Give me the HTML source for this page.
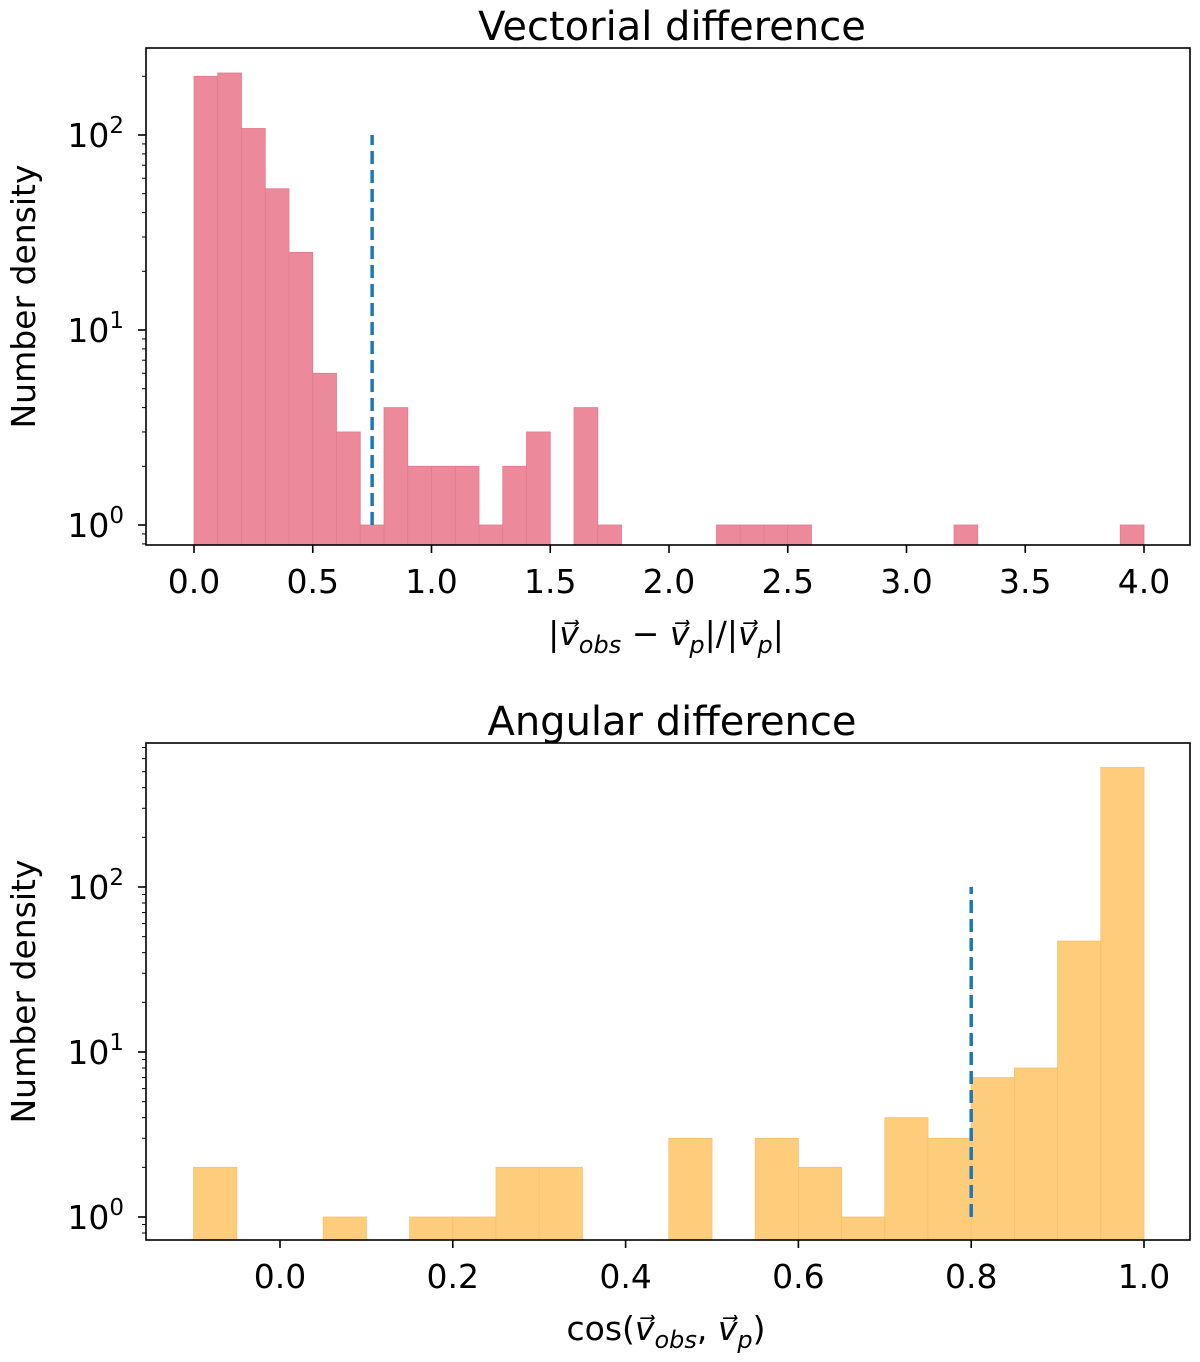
<!DOCTYPE html>
<html><head><meta charset="utf-8"><style>
body{margin:0;background:#fff;}
svg{display:block;font-family:"DejaVu Sans","Liberation Sans",sans-serif;}
</style></head><body>
<svg id="s" width="1200" height="1362" viewBox="0 0 1200 1362" xmlns="http://www.w3.org/2000/svg"></svg>
<script>
const topBinStart = 0.0, topBinWidth = 0.1;
const topCounts = [200,208,108,53,25,6,3,1,4,2,2,2,1,2,3,0,4,1,0,0,0,0,1,1,1,1,0,0,0,0,0,0,1,0,0,0,0,0,0,1];
const topXTicks = [0,0.5,1.0,1.5,2.0,2.5,3.0,3.5,4.0];
const topXTickLabels = ["0.0","0.5","1.0","1.5","2.0","2.5","3.0","3.5","4.0"];
const topThreshold = 0.75;
const botBinStart = -0.1, botBinWidth = 0.05;
const botCounts = [2,0,0,1,0,1,1,2,2,0,0,3,0,3,2,1,4,3,7,8,47,530];
const botXTicks = [0,0.2,0.4,0.6,0.8,1.0];
const botXTickLabels = ["0.0","0.2","0.4","0.6","0.8","1.0"];
const botThreshold = 0.8;
const yDecades = [0,1,2];
const lineRange = [1,100];

const NS="http://www.w3.org/2000/svg";
const svg=document.getElementById('s');
function mk(t,a,p){const e=document.createElementNS(NS,t);for(const k in a)e.setAttribute(k,a[k]);(p||svg).appendChild(e);return e;}

function panel(o){
  const g=mk('g',{});
  
  
  const X=v=>o.x0px+(v-o.x0v)*o.xs;
  const Y=v=>o.y0px-Math.log10(v)*o.ys;
  const bars=mk('g',{},g);
  
  
  o.counts.forEach((c,i)=>{
    if(c<=0)return;
    const a=o.binStart+i*o.binW, b=a+o.binW;
    const y=Y(c);
    const r=mk('rect',{x:X(a),y:y,width:X(b)-X(a),height:o.box[3]-y,fill:o.color,stroke:o.edge,'stroke-width':0.8},bars);
    
    
  });
  const ln=mk('line',{x1:X(o.thr),x2:X(o.thr),y1:Y(lineRange[0]),y2:Y(lineRange[1]),stroke:'#1f77b4','stroke-width':3.5,'stroke-dasharray':'13,6'},g);
  
  
  const [L,T,R,B]=o.box;
  const fr=mk('rect',{x:L,y:T,width:R-L,height:B-T,fill:'none',stroke:'#000','stroke-width':1.6},g);
  
  
  o.xt.forEach((v,i)=>{
    const x=X(v);
    mk('line',{x1:x,x2:x,y1:B,y2:B+8,stroke:'#000','stroke-width':1.6},g);
    const t=mk('text',{x:x,y:B+48,'font-size':33,'text-anchor':'middle'},g);
    t.textContent=o.xl[i];
    
    
  });
  yDecades.forEach(d=>{
    const y=Y(Math.pow(10,d));
    mk('line',{x1:L-8,x2:L,y1:y,y2:y,stroke:'#000','stroke-width':1.6},g);
    const t=mk('text',{x:L-22,y:y+12,'font-size':33,'text-anchor':'end'},g);
    t.innerHTML='10<tspan font-size="23" dy="-14">'+d+'</tspan>';
    
    
  });
  for(let d=-1;d<=3;d++)for(let m=2;m<=9;m++){
    const y=Y(m*Math.pow(10,d));
    if(y<T||y>B)continue;
    mk('line',{x1:L-4,x2:L,y1:y,y2:y,stroke:'#000','stroke-width':1},g);
  }
  const tt=mk('text',{x:(L+R)/2+4,y:T-8,'font-size':40,'text-anchor':'middle'},g);
  tt.textContent=o.title;
  
  
  const yl=mk('text',{x:0,y:0,'font-size':33,'text-anchor':'middle',transform:`translate(35,${(T+B)/2}) rotate(-90)`},g);
  yl.textContent='Number density';
  
  
  const xl=mk('text',{x:(L+R)/2-2,y:B+100,'font-size':33,'text-anchor':'middle'},g);
  xl.innerHTML=o.xlabel;
  
  
}
const vo='<tspan font-style="italic">v&#x20D7;</tspan><tspan font-style="italic" font-size="24" dy="8">obs</tspan><tspan dy="-8">';
const vp='<tspan font-style="italic">v&#x20D7;</tspan><tspan font-style="italic" font-size="24" dy="8">p</tspan><tspan dy="-8">';
panel({name:'vectorial-panel',box:[146,48,1190,545],x0px:194,x0v:0,xs:237.5,y0px:525,ys:195,
  counts:topCounts,binStart:topBinStart,binW:topBinWidth,color:'#ec8a9c',edge:'#e07a8e',thr:topThreshold,
  xt:topXTicks,xl:topXTickLabels,title:'Vectorial difference',
  xlabel:'|'+vo+' − </tspan>'+vp+'|/|</tspan>'+vp+'|</tspan>'});
panel({name:'angular-panel',box:[146,743,1190,1240],x0px:280,x0v:0,xs:864,y0px:1217,ys:165,
  counts:botCounts,binStart:botBinStart,binW:botBinWidth,color:'#fecd7c',edge:'#f5c070',thr:botThreshold,
  xt:botXTicks,xl:botXTickLabels,title:'Angular difference',
  xlabel:'cos('+vo+', </tspan>'+vp+')</tspan>'});
</script>
</body></html>
